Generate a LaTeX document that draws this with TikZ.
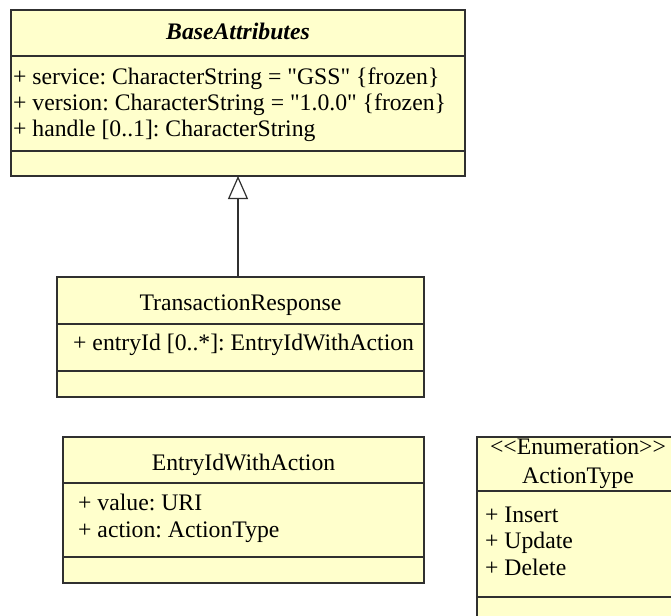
\documentclass[tikz,border=0pt]{standalone}
\usepackage{fontspec}
\newfontfamily\umlfont{Liberation Serif}[Ligatures=TeXOff]
\usetikzlibrary{arrows.meta}
\definecolor{umlfill}{HTML}{FFFFCC}
\definecolor{umlline}{HTML}{303030}
\begin{document}
\frenchspacing
\begin{tikzpicture}[x=1bp,y=-1bp,
  cls/.style={draw=umlline, fill=umlfill, line width=1.2bp, anchor=north west, inner sep=0pt, outer sep=0pt},
  divider/.style={draw=umlline, line width=1.2bp},
  attr/.style={anchor=base west, inner sep=0pt, font=\umlfont\fontsize{23.7bp}{26bp}\selectfont\frenchspacing},
  ttl/.style={anchor=base, inner sep=0pt, font=\umlfont\fontsize{23.7bp}{26bp}\selectfont\frenchspacing},
  gen/.style={draw=umlline, line width=1.2bp, -{Triangle[open, width=20bp, length=23bp, fill=white]}}]
\useasboundingbox (0,0) rectangle (671,616);
\clip (0,0) rectangle (671,616);
% BaseAttributes
\node[cls, minimum width=454bp, minimum height=166bp] (ba) at (11,10) {};
\draw[divider] (ba.west |- 0,56) -- (ba.east |- 0,56);
\draw[divider] (ba.west |- 0,151) -- (ba.east |- 0,151);
\node[ttl, font=\umlfont\fontsize{23.7bp}{26bp}\selectfont\bfseries\itshape] (bat) at (238,40) {BaseAttributes};
\node[attr] (ba1) at (13,85) {+ service: CharacterString = "GSS" \{frozen\}};
\node[attr] (ba2) at (13,111) {+ version: CharacterString = "1.0.0" \{frozen\}};
\node[attr] (ba3) at (13,137) {+ handle [0..1]: CharacterString};
% TransactionResponse
\node[cls, minimum width=367bp, minimum height=120bp] (tr) at (57,277) {};
\draw[divider] (tr.west |- 0,324) -- (tr.east |- 0,324);
\draw[divider] (tr.west |- 0,371) -- (tr.east |- 0,371);
\node[ttl] (trt) at (240.5,310) {TransactionResponse};
\node[attr] (tr1) at (73,350) {+ entryId [0..*]: EntryIdWithAction};
% EntryIdWithAction
\node[cls, minimum width=361bp, minimum height=146bp] (ei) at (63,437) {};
\draw[divider] (ei.west |- 0,483) -- (ei.east |- 0,483);
\draw[divider] (ei.west |- 0,557) -- (ei.east |- 0,557);
\node[ttl] (eit) at (243.5,470) {EntryIdWithAction};
\node[attr] (ei1) at (78,510) {+ value: URI};
\node[attr] (ei2) at (78,537) {+ action: ActionType};
% ActionType
\node[cls, minimum width=220bp, minimum height=200bp] (at) at (477,437) {};
\draw[divider] (at.west |- 0,491) -- (at.east |- 0,491);
\draw[divider] (at.west |- 0,597) -- (at.east |- 0,597);
\node[ttl] (ats) at (578,454) {<{}<Enumeration>{}>};
\node[ttl] (att) at (578,483) {ActionType};
\node[attr] (at1) at (485,522) {+ Insert};
\node[attr] (at2) at (485,548) {+ Update};
\node[attr] (at3) at (485,575) {+ Delete};
% generalization
\draw[gen] (tr.north -| ba.south) -- (ba.south);
\end{tikzpicture}
\end{document}
